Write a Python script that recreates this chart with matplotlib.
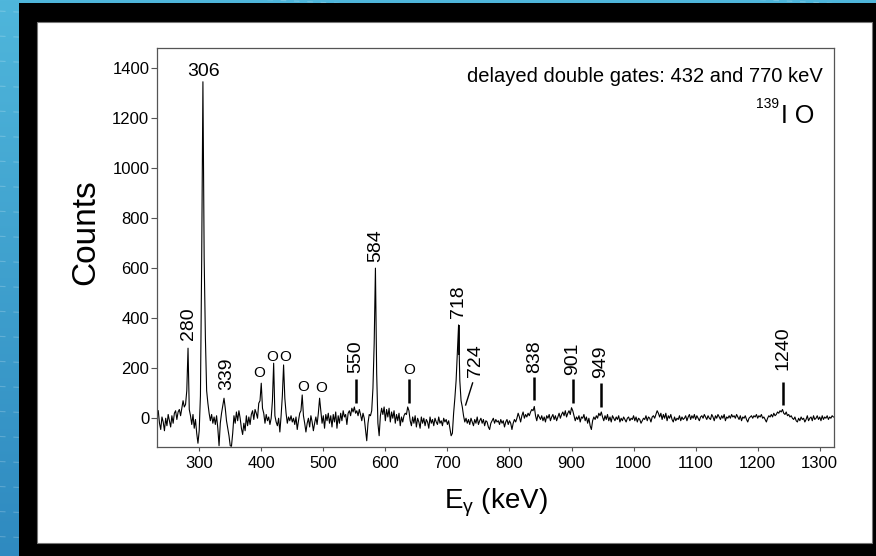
import numpy as np
import matplotlib.pyplot as plt
from matplotlib.patches import Rectangle

plt.rcParams['font.family'] = ['Liberation Sans', 'DejaVu Sans']
plt.rcParams['mathtext.fontset'] = 'custom'
plt.rcParams['mathtext.rm'] = 'Liberation Sans'
plt.rcParams['mathtext.it'] = 'Liberation Sans'

# gamma spectrum, 2 keV bins starting at 234 keV
e_start = 234
e_step = 2
counts = [
    30, -20, -45, 5, -15, -50, 0, -30, 15, -10, -35, 10, -20, 20, 30, -5, 25, 35, 10, 40,
    70, 45, 55, 110, 280, 35, 10, -25, 15, -40, -5, -60, -100, -50, 90, 630, 1345, 640, 320, 110,
    60, 20, -10, 15, -20, 5, -25, 10, -40, -110, -20, 20, 50, 80, 40, -10, -40, -70, -110, -112,
    -60, 10, -20, 25, -10, 30, 0, -40, -65, -20, -50, 10, -30, 5, -25, 15, 30, -5, 35, 20,
    0, 60, 70, 140, 40, 20, -20, 15, -10, 5, -25, 0, 70, 220, 10, -15, -30, 0, -55, 10,
    90, 213, 80, 20, -20, 5, -10, 10, -15, 0, -25, 5, -45, -10, 20, 30, 93, 10, -20, -55,
    -20, 0, -35, 10, -15, -50, -20, 5, -25, 20, 80, 30, -20, 10, -40, 15, -10, 20, -20, 10,
    -35, 15, -15, 25, -40, 10, -20, 20, -10, 30, 5, 15, -25, 20, 30, 10, 40, 25, 45, 20,
    30, 10, 35, 15, -10, 20, 0, -45, -90, -20, 15, 10, 30, 120, 300, 600, 180, -20, -70, 10,
    40, 15, 45, -10, 35, 5, 40, -15, 25, 0, 30, -20, 15, -10, 20, -30, 5, -15, 10, 20,
    15, 45, 30, -10, -30, 5, -20, 10, -35, 0, -15, -40, 5, -20, 0, -30, -5, -15, -40, 5,
    -20, -5, -30, 0, -15, -25, 5, -20, -10, -30, 0, -15, -5, -25, -10, -40, -70, -60, 20, 80,
    150, 260, 373, 150, 70, 45, 10, -15, 0, -20, -5, -25, 0, -15, -30, -5, -20, 5, -25, -10,
    0, -20, -5, -30, -10, -15, -35, -45, -20, -10, 0, -20, -5, -15, -10, -25, -5, -20, -10, -35,
    -15, -5, -25, -10, -20, -45, -20, -5, -15, 0, 20, 5, -15, 10, 25, 0, 15, 5, 20, 10,
    25, 35, 30, 47, 10, -10, 15, 5, -5, 10, -10, 5, -15, 10, 0, 15, -10, 5, 15, -5,
    10, -10, 5, 20, 0, 15, 25, 10, 30, 5, 20, 30, 15, 42, 30, 10, -10, 5, -5, 10,
    -15, 5, 0, 15, -10, 5, -20, 0, -30, -45, -10, 5, -5, 10, 0, 20, 10, 25, 5, -10,
    10, -5, 15, -10, 5, -15, 10, 0, -10, 5, -5, 10, -15, 0, -10, 5, -5, -15, 0, 5,
    -10, 0, -5, 10, -10, 5, -15, 0, -5, -20, -10, 0, -5, 10, -10, 5, 0, -15, 5, 10,
    0, 15, 30, 20, 5, 20, -5, 15, 0, 20, -10, 10, 0, 15, -5, -15, 5, -10, 0, -5,
    10, -10, 5, -5, 0, 10, -10, 5, 15, -5, 10, 0, 15, -5, 10, 0, -10, 5, 10, 0,
    15, 5, -5, 10, 0, -5, 15, 5, -10, 10, 0, 15, 5, -5, 10, 0, 15, -10, 5, 0,
    10, 0, 15, 5, 10, 0, 15, 5, -5, 10, -10, 5, 0, 10, -5, -15, 0, 5, 10, 0,
    10, 5, 15, 0, 10, 5, 15, 0, 5, -5, -15, 0, 10, 5, 15, 5, 20, 10, 15, 25,
    20, 30, 25, 35, 20, 15, 25, 10, 15, 5, 10, 0, -5, 5, -10, -15, 0, -10, 5, -5,
    0, -15, -5, 10, -10, 0, 5, -10, 10, -5, 0, 10, -5, 5, -10, 10, -5, 5, 0, 10,
    -5, 5, 0, 10, 5,
]
energies = e_start + e_step * np.arange(len(counts))

# rotated energy labels: text, energy (keV), counts at text bottom
line_labels = ["280", "339", "550", "584", "718", "724", "838", "901", "949", "1240"]
line_label_e = [283.5, 344.5, 553, 585, 718, 745, 840, 902.5, 947.5, 1241]
line_label_y = [313, 113, 181, 625, 401, 165, 181, 173, 161, 193]

# marker bars under the labels: energy, lower and upper counts
bar_e = [553, 638, 718, 840, 902.5, 947.5, 1241]
bar_lo = [61, 61, 253, 73, 61, 45, 53]
bar_hi = [157, 157, 373, 165, 157, 141, 145]

# contaminant lines marked with "O"
o_e = [397, 418, 438, 468, 497, 638]
o_y = [181, 245, 245, 125, 121, 193]

W, H = 876, 556
fig = plt.figure(figsize=(W / 100, H / 100), dpi=100)

# backdrop: blue gradient, black frame, white panel
bg = fig.add_axes([0, 0, 1, 1])
bg.set_axis_off()
shade = np.linspace(0, 1, 256)[:, None, None]
top = np.array([0x4f, 0xb6, 0xdb]) / 255
bot = np.array([0x2f, 0x8a, 0xc0]) / 255
bg.imshow(top + (bot - top) * shade, extent=[0, 1, 0, 1], aspect='auto', zorder=0)
for y0 in np.arange(-0.1, 1.15, 0.045):
    bg.plot([0, 1], [y0, y0 - 0.08], color='white', alpha=0.2, lw=0.8,
            ls=(0, (5, 7)), zorder=1)
bg.set_xlim(0, 1)
bg.set_ylim(0, 1)
bg.add_patch(Rectangle((19 / W, 0), 1, 1 - 3 / H, facecolor='black', lw=0,
                       zorder=3))
bg.add_patch(Rectangle((37 / W, 1 - 543 / H), (872 - 37) / W, (543 - 22) / H,
                       facecolor='white', edgecolor='#777777', lw=0.8, zorder=4))

ax = fig.add_axes([157 / W, 1 - 447 / H, 677 / W, 399 / H])
ax.plot(energies, counts, color='black', lw=0.8)

ax.set_xlim(232, 1323)
ax.set_ylim(-115, 1480)
ax.set_xticks(range(300, 1301, 100))
ax.set_yticks(range(0, 1401, 200))

for s in ax.spines.values():
    s.set_color('#555555')
    s.set_linewidth(0.9)
ax.tick_params(axis='y', direction='out', length=4.5, width=0.8, color='#555555',
               labelsize=12, pad=1)
ax.tick_params(axis='x', direction='out', length=3, width=0.8, color='#555555',
               labelsize=12, pad=3.5)

ax.set_ylabel('Counts', fontsize=24)
ax.yaxis.set_label_coords(-0.083, 0.539)
ax.set_xlabel(r'E$_{\mathrm{\gamma}}$ (keV)', fontsize=20)
ax.xaxis.set_label_coords(0.5, -0.10)

ax.text(307.5, 1352, "306", fontsize=14, ha='center', va='bottom')
for txt, e, y in zip(line_labels, line_label_e, line_label_y):
    ax.text(e, y, txt, fontsize=14, rotation=90, ha='center', va='bottom')
for e, lo, hi in zip(bar_e, bar_lo, bar_hi):
    lw = 1.3 if e == 718 else 1.8
    ax.plot([e, e], [lo, hi], color='black', lw=lw, solid_capstyle='butt')
ax.plot([740.6, 729.4], [141, 53], color='black', lw=1.0)
for e, y in zip(o_e, o_y):
    ax.text(e, y, "O", fontsize=11, ha='center', va='center')

ax.text(1305, 1365, "delayed double gates: 432 and 770 keV", fontsize=14.5,
        ha='right', va='center')
ax.text(1292, 1209, "I O", fontsize=18, ha='right', va='center')
ax.text(1234, 1255, "139", fontsize=10, ha='right', va='center')

fig.savefig('out.png', dpi=100)
